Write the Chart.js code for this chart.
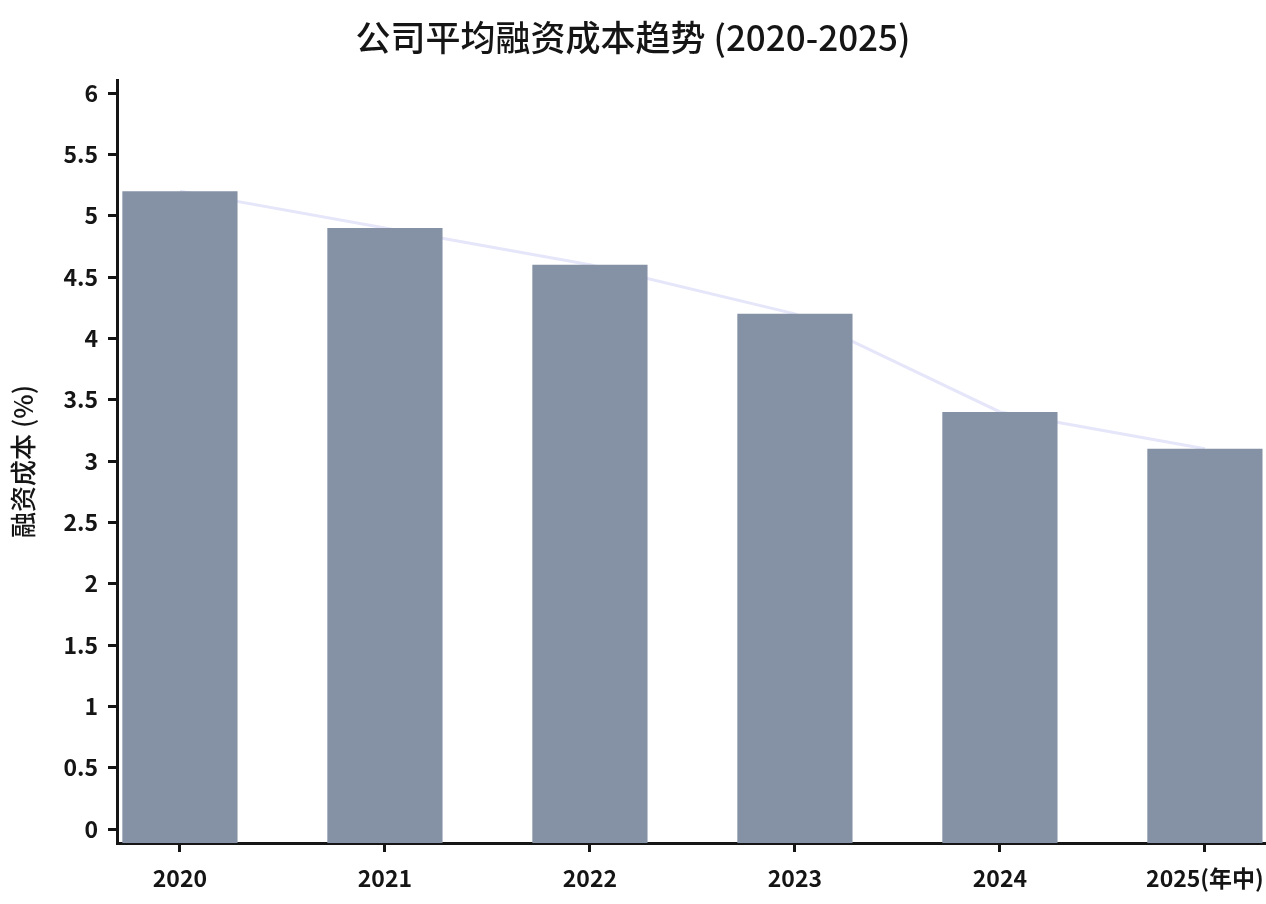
<!DOCTYPE html>
<html>
<head>
<meta charset="utf-8">
<script src="https://cdn.jsdelivr.net/npm/chart.js@4"></script>
<style>
  html, body { margin: 0; padding: 0; background: #fff; }
  #wrap { width: 1266px; height: 904px; }
</style>
</head>
<body>
<div id="wrap"><canvas id="costChart"></canvas></div>
<script>
// data
const years = ["2020", "2021", "2022", "2023", "2024", "2025(年中)"];
const costRates = [5.2, 4.9, 4.6, 4.2, 3.4, 3.1];
const yTicks = [0, 0.5, 1, 1.5, 2, 2.5, 3, 3.5, 4, 4.5, 5, 5.5, 6];

const fontFamily = "'Noto Sans CJK SC', 'Noto Sans', sans-serif";
const inkColor = "#151515";
const yMin = -0.114;
const yMax = 6.106;

// bars and line share the same x positions (index of year)
const barPoints = costRates.map((v, i) => ({ x: i, y: v }));

const config = {
  type: "bar",
  data: {
    datasets: [
      {
        type: "bar",
        data: barPoints,
        backgroundColor: "#8592a5",
        borderWidth: 0,
        base: yMin,
        categoryPercentage: 1,
        barPercentage: 0.562,
        order: 1,
      },
      {
        type: "line",
        data: barPoints,
        borderColor: "#e6e6fa",
        borderWidth: 3,
        pointRadius: 0,
        tension: 0,
        order: 2,
      },
    ],
  },
  options: {
    responsive: true,
    maintainAspectRatio: false,
    animation: false,
    layout: { padding: { left: 0, right: 0, top: 0, bottom: 0 } },
    plugins: {
      legend: { display: false },
      tooltip: { enabled: false },
      title: {
        display: true,
        text: "公司平均融资成本趋势 (2020-2025)",
        color: inkColor,
        font: { family: fontFamily, size: 35, weight: "500" },
        padding: { top: 17, bottom: 21 },
      },
    },
    scales: {
      x: {
        type: "linear",
        offset: false,
        min: -0.307,
        max: 5.298,
        afterBuildTicks(scale) {
          scale.ticks = years.map((_, i) => ({ value: i }));
        },
        afterFit(scale) {
          // last label runs to the canvas edge, like the original
          scale.height = 61;
          scale.paddingRight = 0;
        },
        border: { display: true, width: 3, color: inkColor },
        grid: {
          offset: false,
          drawOnChartArea: false,
          drawTicks: true,
          tickLength: 9,
          tickWidth: 3,
          tickColor: inkColor,
        },
        ticks: {
          autoSkip: false,
          maxRotation: 0,
          padding: 12,
          color: inkColor,
          font: { family: fontFamily, size: 23, weight: "600" },
          callback: (value) => years[value],
        },
      },
      y: {
        min: yMin,
        max: yMax,
        afterBuildTicks(scale) {
          scale.ticks = yTicks.map((v) => ({ value: v }));
        },
        afterFit(scale) {
          scale.width = 117;
        },
        border: { display: true, width: 3, color: inkColor },
        grid: {
          drawOnChartArea: false,
          drawTicks: true,
          tickLength: 9,
          tickWidth: 3,
          tickColor: inkColor,
        },
        ticks: {
          padding: 10,
          color: inkColor,
          font: { family: fontFamily, size: 23, weight: "600" },
          callback: (value) => String(value),
        },
        title: {
          display: true,
          text: "融资成本 (%)",
          color: inkColor,
          font: { family: fontFamily, size: 26, weight: "500" },
          padding: { top: 8, bottom: 0 },
        },
      },
    },
  },
};

new Chart(document.getElementById("costChart"), config);
</script>
</body>
</html>
